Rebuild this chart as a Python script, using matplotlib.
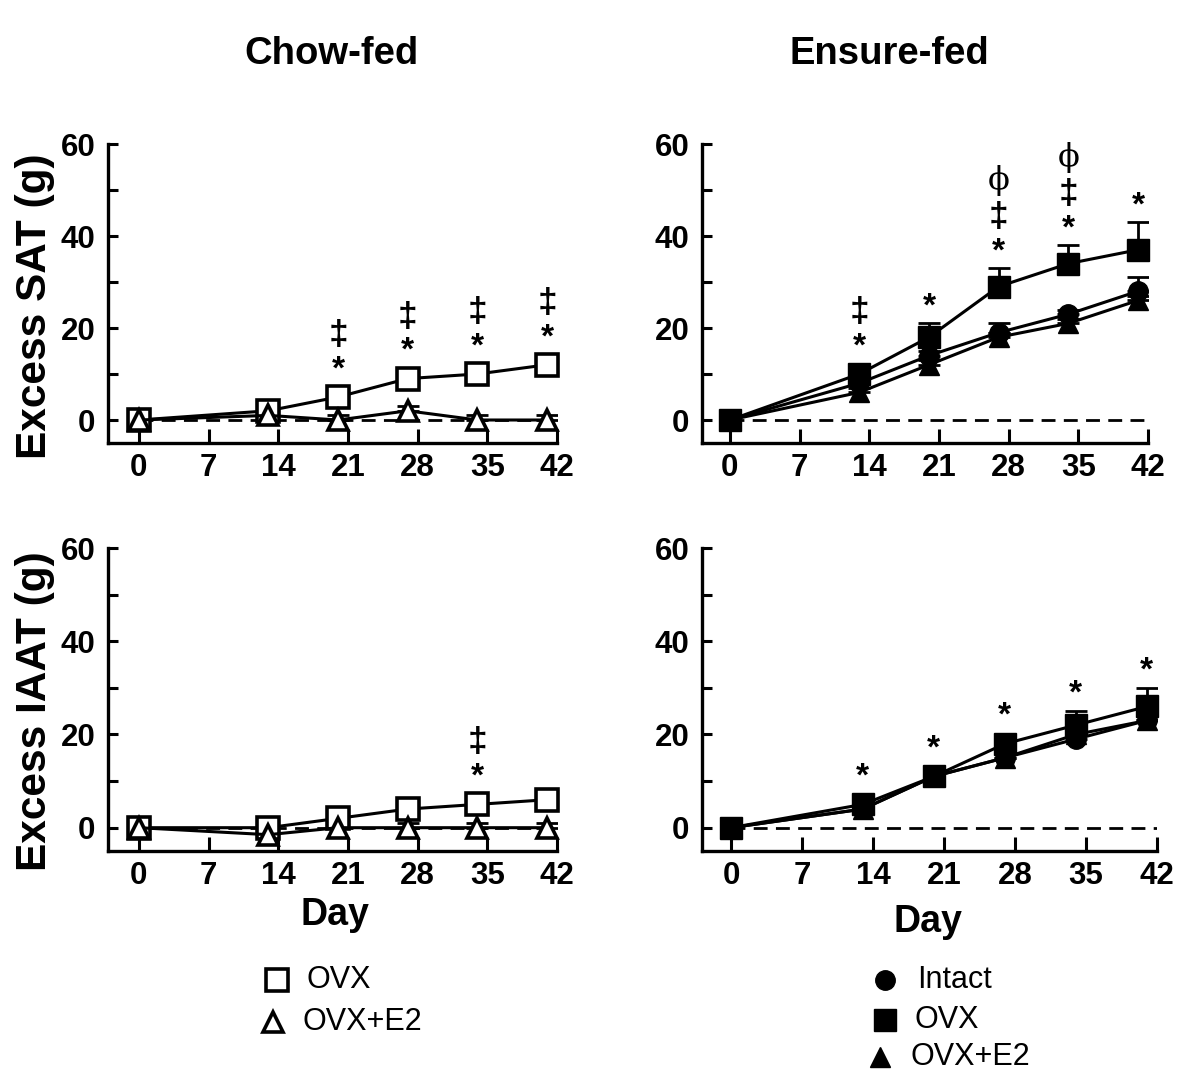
import numpy as np
import matplotlib
matplotlib.use('Agg')
import matplotlib.pyplot as plt
from matplotlib.lines import Line2D

plt.rcParams['font.family'] = ['Liberation Sans', 'DejaVu Sans']

# sampling days and axis ticks
days = [0, 13, 20, 27, 34, 41]
day_ticks = [0, 7, 14, 21, 28, 35, 42]

# Chow-fed, excess SAT (g)
chow_sat_ovx = [0, 2, 5, 9, 10, 12]
chow_sat_ovx_err = [0, 1, 1, 1, 1, 1]
chow_sat_e2 = [0, 1, 0, 2, 0, 0]
chow_sat_e2_err = [0, 1, 1, 1, 1, 1]
chow_sat_sig = ['', '', '*‡', '*‡', '*‡', '*‡']

# Chow-fed, excess IAAT (g)
chow_iaat_ovx = [0, 0, 2, 4, 5, 6]
chow_iaat_ovx_err = [0, 1, 1, 1, 1, 1]
chow_iaat_e2 = [0, -1.5, 0, 0, 0, 0]
chow_iaat_e2_err = [0, 1, 1, 1, 1, 1]
chow_iaat_sig = ['', '', '', '', '*‡', '']

# Ensure-fed, excess SAT (g)
ens_sat_intact = [0, 8, 14, 19, 23, 28]
ens_sat_intact_err = [0, 1, 1, 2, 1, 3]
ens_sat_ovx = [0, 10, 18, 29, 34, 37]
ens_sat_ovx_err = [0, 1, 3, 4, 4, 6]
ens_sat_e2 = [0, 6, 12, 18, 21, 26]
ens_sat_e2_err = [0, 1, 1, 1, 1, 1]
ens_sat_sig = ['', '*‡', '*', '*‡ϕ', '*‡ϕ', '*']

# Ensure-fed, excess IAAT (g)
ens_iaat_intact = [0, 4, 11, 15, 19, 23]
ens_iaat_intact_err = [0, 1, 1, 1, 1, 1]
ens_iaat_ovx = [0, 5, 11, 18, 22, 26]
ens_iaat_ovx_err = [0, 1, 1, 1, 3, 4]
ens_iaat_e2 = [0, 4, 11, 15, 20, 23]
ens_iaat_e2_err = [0, 1, 1, 1, 1, 1]
ens_iaat_sig = ['', '*', '*', '*', '*', '*']

# marker styles
open_sq = dict(marker='s', ms=16, mfc='white', mec='black', mew=2.6)
open_tri = dict(marker='^', ms=15, mfc='white', mec='black', mew=2.6)
fill_circ = dict(marker='o', ms=14, mfc='black', mec='black')
fill_sq = dict(marker='s', ms=16, mfc='black', mec='black')
fill_tri = dict(marker='^', ms=15, mfc='black', mec='black')

W, H = 1200, 1083
fig = plt.figure(figsize=(12, 10.83), dpi=100)


def px(x, y):
    return x / W, 1 - y / H


def panel(rect, xmin, series, sig):
    ax = fig.add_axes(rect)
    ax.plot([0, 42], [0, 0], color='black', lw=2, dashes=(5, 3), zorder=1)
    tops = np.zeros(len(days))
    for vals, err, style in series:
        vals = np.array(vals, dtype=float)
        err = np.array(err, dtype=float)
        ax.errorbar(days, vals, yerr=[np.zeros_like(err), err], fmt='none',
                    ecolor='black', elinewidth=2, capsize=8, capthick=2,
                    zorder=2)
        ax.plot(days, vals, color='black', lw=2.2, zorder=3, clip_on=False, **style)
        tops = np.maximum(tops, np.maximum(vals + 2.3, vals + err))
    # significance symbols stacked above the highest point
    for d, t, s in zip(days, tops, sig):
        for k, ch in enumerate(s):
            y = t + 3.6 + 7.4 * k
            if ch == 'ϕ':
                ax.text(d, y + 0.6, ch, ha='center', va='center', fontsize=23,
                        family=['DejaVu Serif', 'Liberation Serif'])
            elif ch == '‡':
                ax.text(d, y, ch, ha='center', va='center', fontsize=25.5,
                        fontweight='bold')
            else:
                ax.text(d, y, ch, ha='center', va='center', fontsize=24,
                        fontweight='bold')
    ax.set_xlim(xmin, 42)
    ax.set_ylim(-5, 60)
    ax.set_xticks(day_ticks)
    ax.set_yticks([0, 20, 40, 60])
    ax.set_yticks([10, 30, 50], minor=True)
    ax.tick_params(axis='both', which='both', direction='in', width=2.2,
                   labelsize=22.5)
    ax.tick_params(axis='y', which='both', length=7, pad=9)
    ax.tick_params(axis='x', length=10, pad=7)
    for lab in ax.get_xticklabels() + ax.get_yticklabels():
        lab.set_fontweight('bold')
    for side in ['top', 'right']:
        ax.spines[side].set_visible(False)
    for side in ['left', 'bottom']:
        ax.spines[side].set_linewidth(2.4)
    return ax


panel([108 / W, 1 - 443 / H, 449 / W, 299 / H], -3.1,
      [(chow_sat_ovx, chow_sat_ovx_err, open_sq),
       (chow_sat_e2, chow_sat_e2_err, open_tri)], chow_sat_sig)
panel([702 / W, 1 - 443 / H, 446 / W, 299 / H], -2.8,
      [(ens_sat_e2, ens_sat_e2_err, fill_tri),
       (ens_sat_intact, ens_sat_intact_err, fill_circ),
       (ens_sat_ovx, ens_sat_ovx_err, fill_sq)], ens_sat_sig)
panel([108 / W, 1 - 851 / H, 449 / W, 303 / H], -3.1,
      [(chow_iaat_ovx, chow_iaat_ovx_err, open_sq),
       (chow_iaat_e2, chow_iaat_e2_err, open_tri)], chow_iaat_sig)
panel([702 / W, 1 - 851 / H, 455 / W, 303 / H], -2.86,
      [(ens_iaat_e2, ens_iaat_e2_err, fill_tri),
       (ens_iaat_intact, ens_iaat_intact_err, fill_circ),
       (ens_iaat_ovx, ens_iaat_ovx_err, fill_sq)], ens_iaat_sig)

# titles and axis labels
fig.text(*px(331, 54), 'Chow-fed', ha='center', va='center', fontsize=27.5, fontweight='bold')
fig.text(*px(889, 54), 'Ensure-fed', ha='center', va='center', fontsize=27.5, fontweight='bold')
fig.text(*px(35, 306), 'Excess SAT (g)', ha='center', va='center', rotation=90,
         fontsize=30.5, fontweight='bold')
fig.text(*px(35, 711), 'Excess IAAT (g)', ha='center', va='center', rotation=90,
         fontsize=30.5, fontweight='bold')
fig.text(*px(335, 915), 'Day', ha='center', va='center', fontsize=27, fontweight='bold')
fig.text(*px(928, 922), 'Day', ha='center', va='center', fontsize=27, fontweight='bold')


# legends
def legend_row(x, y, style, label, tx):
    fig.add_artist(Line2D([px(x, y)[0]], [px(x, y)[1]], transform=fig.transFigure,
                          color='black', ls='none', **style))
    fig.text(*px(tx, y), label, ha='left', va='center', fontsize=22)


legend_row(277, 980, open_sq, 'OVX', 307)
legend_row(273, 1022, open_tri, 'OVX+E2', 303)
legend_row(885, 980, fill_circ, 'Intact', 917)
legend_row(885, 1020, fill_sq, 'OVX', 915)
legend_row(880, 1057, fill_tri, 'OVX+E2', 910)

fig.savefig('out.png', dpi=100)
